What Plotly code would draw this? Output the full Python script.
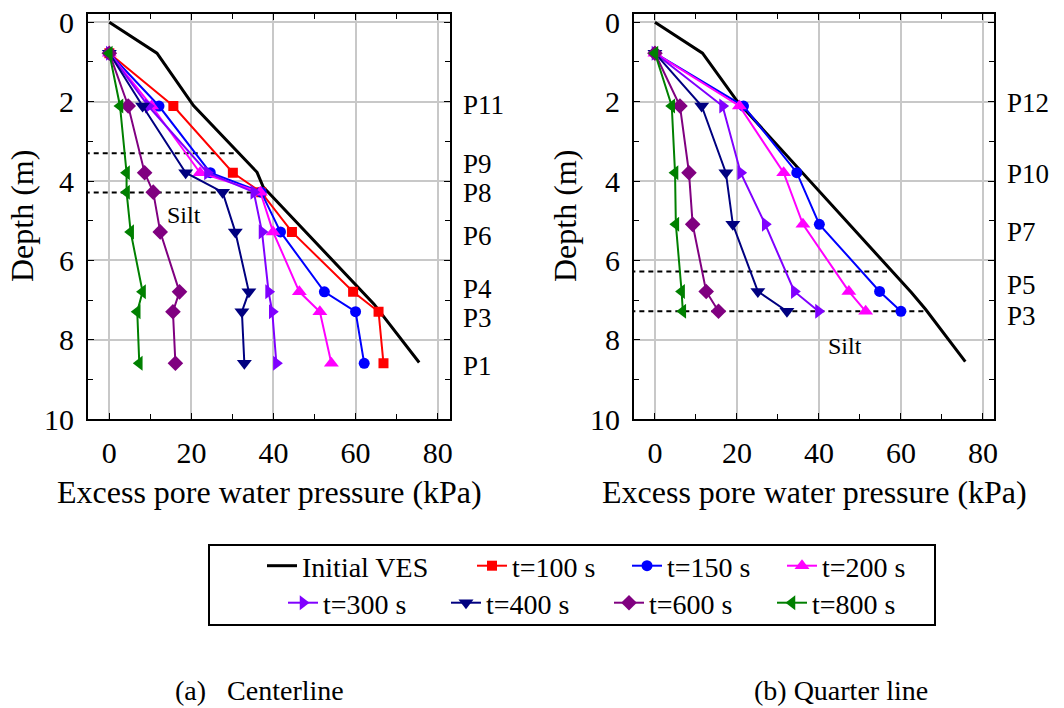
import plotly.graph_objects as go

# ---------------- data ----------------
series_names = ["t=100 s", "t=150 s", "t=200 s", "t=300 s", "t=400 s", "t=600 s", "t=800 s"]
series_colors = ["#FF0000", "#0000FF", "#FF00FF", "#8000FF", "#000080", "#800080", "#008000"]
series_symbols = ["square", "circle", "triangle-up", "triangle-right", "triangle-down", "diamond", "triangle-left"]
series_sizes = [10, 11, 13, 13, 13, 12, 13]
series_legend = ["legend2", "legend2", "legend2", "legend3", "legend3", "legend3", "legend3"]

# (a) Centerline
depth_a = [0.78, 2.11, 3.79, 4.28, 5.28, 6.79, 7.29, 8.59]
epwp_a = {
    "t=100 s": [0, 15.6, 30.1, 37.0, 44.5, 59.4, 65.6, 66.8],
    "t=150 s": [0, 12.1, 24.6, 37.0, 41.7, 52.4, 60.0, 62.1],
    "t=200 s": [0, 10.3, 22.1, 36.8, 39.9, 46.3, 51.3, 54.1],
    "t=300 s": [0, 9.5, 23.9, 35.2, 37.2, 38.8, 39.7, 40.7],
    "t=400 s": [0, 8.1, 18.6, 27.6, 30.7, 34.0, 32.3, 32.9],
    "t=600 s": [0, 4.6, 8.6, 10.7, 12.4, 17.1, 15.5, 16.1],
    "t=800 s": [0, 2.6, 4.2, 4.2, 5.2, 8.1, 6.8, 7.3],
}
ves_a_x = [0, 11.6, 20.5, 36.0, 37.5, 64.5, 75.5]
ves_a_depth = [0, 0.78, 2.1, 3.78, 4.15, 7.1, 8.57]
silt_a_depth = [3.3, 4.29]
silt_a_end = [30.3, 35.0]
labels_a = ["P11", "P9", "P8", "P6", "P4", "P3", "P1"]
labels_a_depth = [2.08, 3.58, 4.3, 5.38, 6.72, 7.44, 8.67]

# (b) Quarter line
depth_b = [0.78, 2.11, 3.79, 5.09, 6.78, 7.28]
epwp_b = {
    "t=150 s": [0, 21.6, 34.6, 40.1, 54.8, 60.0],
    "t=200 s": [0, 20.6, 31.4, 36.1, 47.3, 51.4],
    "t=300 s": [0, 16.5, 20.9, 26.9, 34.0, 39.9],
    "t=400 s": [0, 11.4, 17.3, 19.0, 25.1, 32.2],
    "t=600 s": [0, 6.1, 8.3, 9.2, 12.5, 15.5],
    "t=800 s": [0, 4.1, 4.9, 5.1, 6.5, 6.8],
}
ves_b_x = [0, 11.6, 20.0, 62.5, 66.0, 75.7]
ves_b_depth = [0, 0.78, 1.98, 6.8, 7.23, 8.55]
silt_b_depth = [6.28, 7.28]
silt_b_end = [56.6, 65.6]
labels_b = ["P12", "P10", "P7", "P5", "P3"]
labels_b_depth = [2.03, 3.83, 5.28, 6.63, 7.39]

x_ticks = [0, 20, 40, 60, 80]
y_ticks = [0, 2, 4, 6, 8, 10]

FONT = "Liberation Serif, Times New Roman, Times, DejaVu Serif, serif"
fig = go.Figure()


def add_panel(xa, ya, ves_x, ves_d, depth, data, silt_d, silt_e, show_legend):
    # silt boundaries (dashed)
    for d, e in zip(silt_d, silt_e):
        fig.add_trace(go.Scatter(x=[-6, e], y=[d, d], mode="lines", xaxis=xa, yaxis=ya,
                                 line=dict(color="black", width=2, dash="5px,4px"),
                                 showlegend=False, hoverinfo="skip", cliponaxis=True))
    fig.add_trace(go.Scatter(x=ves_x, y=ves_d, mode="lines", name="Initial VES",
                             xaxis=xa, yaxis=ya, line=dict(color="black", width=3),
                             showlegend=show_legend, legend="legend"))
    for name, col, sym, sz, lg in zip(series_names, series_colors, series_symbols, series_sizes, series_legend):
        if name not in data:
            continue
        fig.add_trace(go.Scatter(
            x=data[name], y=depth, mode="lines+markers", name=name, xaxis=xa, yaxis=ya,
            line=dict(color=col, width=2),
            marker=dict(symbol=sym, size=sz, color=col, line=dict(width=0)),
            showlegend=show_legend, legend=lg))


add_panel("x", "y", ves_a_x, ves_a_depth, depth_a, epwp_a, silt_a_depth, silt_a_end, True)
add_panel("x2", "y2", ves_b_x, ves_b_depth, depth_b, epwp_b, silt_b_depth, silt_b_end, False)

axis_common = dict(
    showline=True, linewidth=2, linecolor="black", mirror="allticks",
    showgrid=True, gridcolor="#c8c8c8", gridwidth=1.5, zeroline=False,
    ticks="inside", ticklen=6, tickcolor="black", tickwidth=1, automargin=False,
    tickfont=dict(family=FONT, size=30, color="black"),
)
ydom = [0.4078, 0.9798]
legend_common = dict(orientation="h", xanchor="left", yanchor="middle",
                     font=dict(family=FONT, size=28), bgcolor="rgba(0,0,0,0)", borderwidth=0,
                     tracegroupgap=0)
fig.update_layout(
    xaxis=dict(domain=[0.0827, 0.4229], range=[-5.2, 83], tickvals=x_ticks, anchor="y",
               minor=dict(dtick=10, tick0=0, ticks="inside", ticklen=5, tickcolor="black", showgrid=False),
               ticklabelstandoff=6, **axis_common),
    yaxis=dict(domain=ydom, range=[10, -0.2], tickvals=y_ticks, anchor="x",
               minor=dict(dtick=1, tick0=0, ticks="inside", ticklen=5, tickcolor="black", showgrid=False),
               ticklabelstandoff=6, **axis_common),
    xaxis2=dict(domain=[0.5959, 0.9342], range=[-5.1, 82.7], tickvals=x_ticks, anchor="y2",
                minor=dict(dtick=10, tick0=0, ticks="inside", ticklen=5, tickcolor="black", showgrid=False),
                ticklabelstandoff=6, **axis_common),
    yaxis2=dict(domain=ydom, range=[10, -0.2], tickvals=y_ticks, anchor="x2",
                minor=dict(dtick=1, tick0=0, ticks="inside", ticklen=5, tickcolor="black", showgrid=False),
                ticklabelstandoff=6, **axis_common),
    width=1064, height=708,
    margin=dict(l=0, r=0, t=0, b=0, autoexpand=False),
    paper_bgcolor="white", plot_bgcolor="white",
    font=dict(family=FONT, color="black"),
    legend=dict(x=(302 - 40) / 1064, y=1 - 566 / 708, **legend_common),
    legend2=dict(x=(511 - 39) / 1064, y=1 - 566 / 708, entrywidth=110, **legend_common),
    legend3=dict(x=(324 - 41) / 1064, y=1 - 603 / 708, entrywidth=118, **legend_common),
    showlegend=True,
)

# legend frame
fig.add_shape(type="rect", xref="paper", yref="paper",
              x0=209 / 1064, x1=935 / 1064, y0=1 - 625 / 708, y1=1 - 545 / 708,
              line=dict(color="black", width=2), fillcolor="rgba(0,0,0,0)")

ann = []
# axis titles
for cx in [(88 + 450) / 2 / 1064, (634 + 994) / 2 / 1064]:
    ann.append(dict(text="Excess pore water pressure (kPa)", x=cx, y=1 - 492 / 708, xref="paper", yref="paper",
                    showarrow=False, xanchor="center", yanchor="middle", font=dict(family=FONT, size=32)))
for cx in [22 / 1064, 565 / 1064]:
    ann.append(dict(text="Depth (m)", x=cx, y=1 - 216 / 708, xref="paper", yref="paper", textangle=-90,
                    showarrow=False, xanchor="center", yanchor="middle", font=dict(family=FONT, size=32)))
# P labels
for t, d in zip(labels_a, labels_a_depth):
    ann.append(dict(text=t, x=1.03, y=d, xref="x domain", yref="y", showarrow=False,
                    xanchor="left", yanchor="middle", font=dict(family=FONT, size=27)))
for t, d in zip(labels_b, labels_b_depth):
    ann.append(dict(text=t, x=1.03, y=d, xref="x2 domain", yref="y2", showarrow=False,
                    xanchor="left", yanchor="middle", font=dict(family=FONT, size=27)))
# Silt
ann.append(dict(text="Silt", x=18.1, y=4.86, xref="x", yref="y", showarrow=False,
                font=dict(family=FONT, size=24)))
ann.append(dict(text="Silt", x=46.4, y=8.15, xref="x2", yref="y2", showarrow=False,
                font=dict(family=FONT, size=24)))
# captions
ann.append(dict(text="(a)\u00a0\u00a0\u00a0Centerline", x=173 / 1064, y=1 - 690 / 708, xref="paper", yref="paper",
                showarrow=False, xanchor="left", yanchor="middle", font=dict(family=FONT, size=28)))
ann.append(dict(text="(b) Quarter line", x=752 / 1064, y=1 - 690 / 708, xref="paper", yref="paper",
                showarrow=False, xanchor="left", yanchor="middle", font=dict(family=FONT, size=28)))
fig.update_layout(annotations=ann)

fig.write_html("out.html")
